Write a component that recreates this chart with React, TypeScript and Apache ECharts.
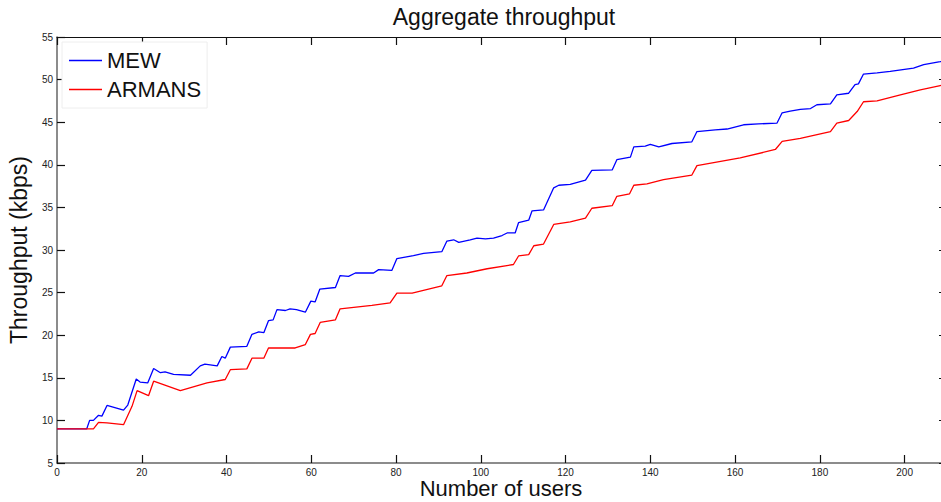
import React, { useEffect, useRef } from "react";
import * as echarts from "echarts";

// Aggregate throughput (kbps) against number of users, for the two schemes.
const mewUsers = [
  0, 7, 7.7, 8.6, 9.8, 10.6, 11.8, 15.7, 16.7, 18.7, 19.6, 21.4, 22.8, 24.4, 25.5, 27.5,
  31.5, 33.8, 34.9, 37.8, 38.9, 39.7, 40.9, 44.8, 46.0, 47.6, 48.8, 49.9, 51.0, 51.9,
  53.9, 55.0, 56.5, 58.6, 59.9, 60.9, 62.0, 65.7, 66.8, 68.8, 70.4, 74.7, 75.9, 79.0,
  80.2, 84.1, 86.5, 90.8, 92.0, 93.6, 94.8, 97.5, 99.1, 101.1, 103, 105, 106.2, 108.1,
  108.9, 111.3, 112.1, 114.8, 117.2, 118.4, 121.1, 124.7, 126.2, 131, 132.1, 135.3,
  136.1, 138.8, 140, 142, 145.1, 149.8, 151, 155.3, 158.1, 162, 165.5, 169.9, 171.1,
  173, 175.4, 177.8, 179.3, 182.5, 184, 186.8, 188.3, 189.1, 190.3, 193.5, 196.6,
  202.1, 204.5, 208.4, 210,
];
const mewThroughput = [
  9, 9, 10, 10, 10.6, 10.5, 11.75, 11.2, 11.8, 14.86, 14.5, 14.4, 16.1, 15.6, 15.7, 15.4,
  15.3, 16.4, 16.6, 16.4, 17.5, 17.3, 18.6, 18.7, 20.1, 20.4, 20.3, 21.7, 21.8, 23.0,
  22.9, 23.1, 23.0, 22.7, 24.0, 23.9, 25.4, 25.6, 27.0, 26.9, 27.3, 27.3, 27.7, 27.6,
  29.0, 29.35, 29.6, 29.8, 31.05, 31.2, 30.9, 31.2, 31.4, 31.3, 31.4, 31.7, 32.0, 32.0,
  33.2, 33.5, 34.6, 34.7, 37.3, 37.6, 37.7, 38.2, 39.35, 39.4, 40.6, 40.9,
  42.1, 42.2, 42.4, 42.1, 42.5, 42.7, 43.9, 44.1, 44.2, 44.7, 44.8, 44.9, 46.1,
  46.3, 46.5, 46.6, 47.05, 47.15, 48.2, 48.4, 49.4, 49.5, 50.65, 50.8, 50.96,
  51.35, 51.75, 52.1, 52.25,
];

const armansUsers = [
  0, 8.6, 9.8, 11.8, 15.7, 17.7, 18.9, 21.6, 22.8, 29.1, 35.4, 39.7, 40.9, 44.8, 46.0,
  48.8, 49.9, 56.2, 58.6, 59.8, 60.9, 62.1, 65.7, 66.8, 74.3, 78.6, 80.2, 83.8, 90.8,
  92.0, 96.7, 101.5, 107.7, 108.9, 111.3, 112.5, 114.8, 117.2, 121.1, 124.7, 126.2,
  131, 132.1, 135.1, 136.1, 139.2, 143.1, 149.8, 151, 161.2, 169.5, 171.1, 175.4,
  182.5, 184, 186.8, 188.8, 190.3, 193.5, 199, 203.7, 208.4, 210,
];
const armansThroughput = [
  9, 9, 9.77, 9.7, 9.5, 11.65, 13.5, 12.9, 14.6, 13.5, 14.4, 14.8, 15.95, 16.05, 17.3,
  17.3, 18.5, 18.5, 18.9, 20.1, 20.2, 21.5, 21.8, 23.1, 23.5, 23.8, 24.95, 24.95, 25.8,
  27.0, 27.3, 27.8, 28.3, 29.3, 29.45, 30.5, 30.7, 33.0, 33.3, 33.75, 34.9,
  35.2, 36.3, 36.6, 37.6, 37.75, 38.25, 38.8, 39.9, 40.8, 41.8, 42.75, 43.1,
  43.9, 44.9, 45.2, 46.25, 47.4, 47.5, 48.2, 48.8, 49.3, 49.45,
];

const seriesNames = ["MEW", "ARMANS"];
const titleText = "Aggregate throughput";
const xName = "Number of users";
const yName = "Throughput (kbps)";

const FONT = "'Liberation Sans', Arial, sans-serif";

function pairs(xs: number[], ys: number[]): number[][] {
  return xs.map((x, i) => [x, ys[i]]);
}

export default function App() {
  const ref = useRef<HTMLDivElement>(null);

  useEffect(() => {
    if (!ref.current) return;
    const chart = echarts.init(ref.current, undefined, { renderer: "svg" });

    const xRange = { type: "value" as const, min: 0, max: 210, interval: 20 };
    const yRange = { type: "value" as const, min: 5, max: 55, interval: 5 };
    const tickStyle = { show: true, inside: true, length: 8, lineStyle: { color: "#111", width: 1.2 } };

    chart.setOption({
      animation: false,
      backgroundColor: "#ffffff",
      textStyle: { fontFamily: FONT },
      title: {
        text: titleText,
        left: 499,
        textAlign: "center",
        top: 0,
        textStyle: { fontFamily: FONT, fontSize: 23, fontWeight: "normal", color: "#111" },
      },
      legend: {
        orient: "vertical",
        left: 62,
        top: 42,
        padding: [4, 6, 4, 7],
        itemGap: 0,
        itemWidth: 33,
        itemHeight: 1.5,
        icon: "rect",
        backgroundColor: "#ffffff",
        borderColor: "#eeeeee",
        borderWidth: 1,
        textStyle: { fontFamily: FONT, fontSize: 22, lineHeight: 29, color: "#111" },
        data: seriesNames,
      },
      // x-axis title sits just under the tick labels, close to the bottom edge
      graphic: [
        {
          type: "text",
          x: 501,
          y: 488,
          style: {
            text: xName,
            fontFamily: FONT,
            fontSize: 22,
            fill: "#111",
            align: "center",
            verticalAlign: "middle",
          },
        },
      ],
      grid: { left: 57, top: 37, width: 890, height: 426, containLabel: false, outerBoundsMode: "none" },
      xAxis: [
        {
          ...xRange,
          position: "bottom",
          axisLine: { show: true, onZero: false, lineStyle: { color: "#666", width: 1.5 } },
          axisTick: tickStyle,
          axisLabel: { fontFamily: FONT, fontSize: 10, color: "#222", margin: 4, showMaxLabel: false },
          splitLine: { show: false },
        },
        {
          ...xRange,
          position: "top",
          axisLine: { show: true, onZero: false, lineStyle: { color: "#111", width: 1 } },
          axisTick: tickStyle,
          axisLabel: { show: false },
          splitLine: { show: false },
        },
      ],
      yAxis: [
        {
          ...yRange,
          position: "left",
          name: yName,
          nameLocation: "middle",
          nameRotate: 90,
          nameGap: 24,
          nameTextStyle: { fontFamily: FONT, fontSize: 23, color: "#111" },
          axisLine: { show: true, onZero: false, lineStyle: { color: "#666", width: 1.5 } },
          axisTick: tickStyle,
          axisLabel: { fontFamily: FONT, fontSize: 10, color: "#222", margin: 4 },
          splitLine: { show: false },
        },
        {
          ...yRange,
          position: "right",
          axisLine: { show: true, onZero: false, lineStyle: { color: "#111", width: 1 } },
          axisTick: tickStyle,
          axisLabel: { show: false },
          splitLine: { show: false },
        },
      ],
      series: [
        {
          name: seriesNames[0],
          type: "line",
          xAxisIndex: 0,
          yAxisIndex: 0,
          data: pairs(mewUsers, mewThroughput),
          showSymbol: false,
          symbol: "none",
          color: "#0000ff",
          lineStyle: { color: "#0000ff", width: 1.3 },
        },
        {
          name: seriesNames[1],
          type: "line",
          xAxisIndex: 0,
          yAxisIndex: 0,
          data: pairs(armansUsers, armansThroughput),
          showSymbol: false,
          symbol: "none",
          color: "#ff0000",
          lineStyle: { color: "#ff0000", width: 1.3 },
        },
      ],
    });

    return () => chart.dispose();
  }, []);

  return (
    <div
      ref={ref}
      style={{ position: "absolute", left: 0, top: 0, width: 941, height: 502, overflow: "hidden" }}
    />
  );
}
